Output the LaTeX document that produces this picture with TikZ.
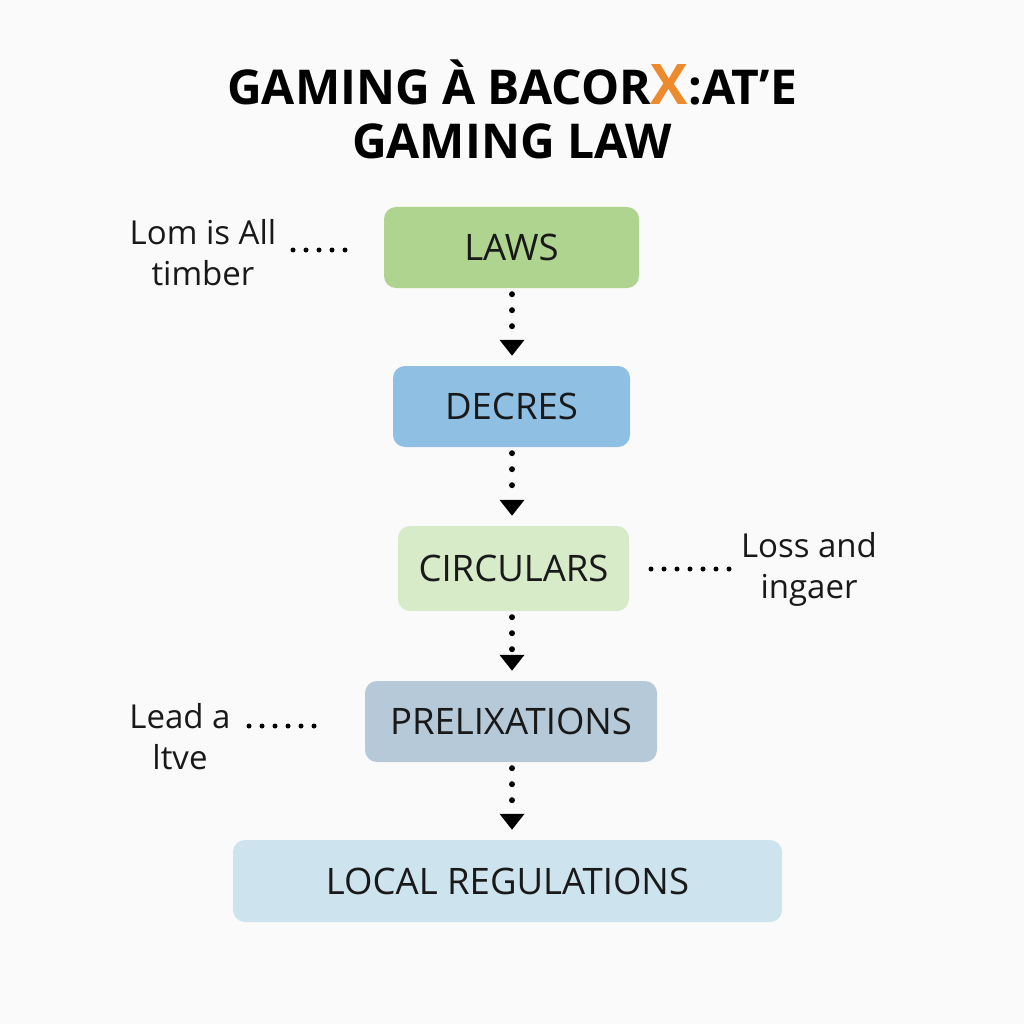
\documentclass[tikz,border=0pt]{standalone}
\usepackage{fontspec}
\setmainfont{Open Sans}
\usetikzlibrary{arrows.meta}
\definecolor{bgc}{HTML}{FAFAFA}
\definecolor{lawc}{HTML}{AED48F}
\definecolor{decc}{HTML}{8FC0E3}
\definecolor{circ}{HTML}{D8EBC8}
\definecolor{prec}{HTML}{B6C9D8}
\definecolor{locc}{HTML}{CDE4EE}
\definecolor{xorange}{HTML}{EE8A2E}
\tikzset{
  box/.style={rounded corners=12pt, inner sep=0pt, font=\fontsize{36.5}{42}\selectfont, text=black!90},
  side/.style={align=center, font=\fontsize{33}{41}\selectfont, inner sep=0pt, text=black!90},
  flow/.style={line width=6pt, line cap=round, dash pattern=on 0pt off 16pt, shorten >=10pt, shorten <=6pt,
    -{Triangle[width=24pt,length=16pt]}},
  leader/.style={line width=5pt, line cap=round, dash pattern=on 0pt off 13pt}
}
\begin{document}
\begin{tikzpicture}[x=1pt,y=-1pt]
\fill[bgc] (0,0) rectangle (1024,1024);
\useasboundingbox (0,0) rectangle (1024,1024);
% title
\node[font=\fontsize{48}{54}\selectfont\bfseries, align=center, inner sep=0pt] (title) at (512,109)
  {GAMING À BACOR{\color{xorange}\fontsize{56}{56}\selectfont X}:AT'E\\GAMING LAW};
% boxes
\node[box, fill=lawc, minimum width=255pt, minimum height=81pt] (laws) at (511.5,247.5) {LAWS};
\node[box, fill=decc, minimum width=237pt, minimum height=81pt] (dec) at (511.5,406.5) {DECRES};
\node[box, fill=circ, minimum width=231pt, minimum height=85pt] (cir) at (513.5,568.5) {CIRCULARS};
\node[box, fill=prec, minimum width=292pt, minimum height=81pt] (pre) at (511,721.5) {PRELIXATIONS};
\node[box, fill=locc, minimum width=549pt, minimum height=82pt] (loc) at (507.5,881) {LOCAL REGULATIONS};
% arrows
\draw[flow] (laws.south -| 512,0) -- (dec.north -| 512,0);
\draw[flow] (dec.south -| 512,0) -- (cir.north -| 512,0);
\draw[flow] (cir.south -| 512,0) -- (pre.north -| 512,0);
\draw[flow] (pre.south -| 512,0) -- (loc.north -| 512,0);
% side labels
\node[side] (l1) at (203,253) {Lom is All\\timber};
\node[side] (l2) at (809,569) {Loss and\\ingaer};
\node[side] (l3) at (180,737) {Lead a\\ltve};
\coordinate (d1a) at (293,250); \coordinate (d1b) at (350,250);
\coordinate (d2a) at (651,569); \coordinate (d2b) at (733,569);
\coordinate (d3a) at (249,726); \coordinate (d3b) at (322,726);
\draw[leader] (d1a) -- (d1b);
\draw[leader] (d2a) -- (d2b);
\draw[leader] (d3a) -- (d3b);
\end{tikzpicture}
\end{document}
